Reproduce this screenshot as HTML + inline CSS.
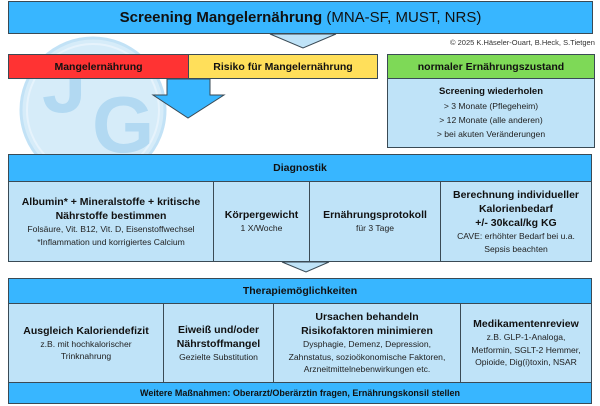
<!DOCTYPE html>
<html><head><meta charset="utf-8"><style>
body{margin:0;width:600px;height:406px;background:#fff;position:relative;overflow:hidden;font-family:"Liberation Sans",sans-serif;color:#111}
.a{position:absolute;box-sizing:border-box}
.b{border:1.5px solid #3a4a55}
.c{display:flex;flex-direction:column;justify-content:center;align-items:center;text-align:center}
.h{font-weight:bold;font-size:10.5px;line-height:14px}
.t{font-size:8.6px;line-height:12.5px;color:#222}
.lb{background:#bfe3f8}
.db{background:#38b6ff}
</style></head><body>
<svg class="a" style="left:0;top:0" width="600" height="406">
<circle cx="93" cy="110" r="72" fill="#d6ecf9" stroke="#c2e2f6" stroke-width="3"/>
<circle cx="93" cy="110" r="66" fill="none" stroke="#e6f3fc" stroke-width="2"/>
<text x="42" y="112" font-family="Liberation Sans" font-weight="bold" font-size="80" fill="#b2d9f2">J</text>
<text x="92" y="152" font-family="Liberation Sans" font-weight="bold" font-size="80" fill="#b2d9f2">G</text>
<polygon points="270,34 336,34 303,48" fill="#bfe3f8" stroke="#3a4a55" stroke-width="1"/>
<polygon points="167,79 210,79 210,95 224,95 188,118 153,95 167,95" fill="#38b6ff" stroke="#3a4a55" stroke-width="1"/>
<polygon points="282,262 329,262 306,272" fill="#bfe3f8" stroke="#3a4a55" stroke-width="1"/>
</svg>
<div class="a b c db" style="left:8px;top:1px;width:585px;height:33px;font-size:15px"><div><b>Screening Mangelernährung</b> (MNA-SF, MUST, NRS)</div></div>
<div class="a" style="left:450px;top:38px;font-size:7.5px;color:#333">© 2025 K.Häseler-Ouart, B.Heck, S.Tietgen</div>
<div class="a b c h" style="left:8px;top:54px;width:181px;height:25px;background:#ff3333">Mangelernährung</div>
<div class="a b c h" style="left:188px;top:54px;width:190px;height:25px;background:#ffdf5a">Risiko für Mangelernährung</div>
<div class="a b c h" style="left:387px;top:54px;width:208px;height:25px;background:#7ed957">normaler Ernährungszustand</div>
<div class="a b c lb" style="left:387px;top:78px;width:208px;height:70px"><div class="h" style="font-size:9.5px">Screening wiederholen</div><div class="t" style="line-height:14px">&gt; 3 Monate (Pflegeheim)<br>&gt; 12 Monate (alle anderen)<br>&gt; bei akuten Veränderungen</div></div>

<div class="a b c db h" style="left:8px;top:154px;width:584px;height:28px">Diagnostik</div>
<div class="a b c lb" style="left:8px;top:181px;width:206px;height:81px"><div class="h">Albumin* + Mineralstoffe + kritische<br>Nährstoffe bestimmen</div><div class="t">Folsäure, Vit. B12, Vit. D, Eisenstoffwechsel<br>*Inflammation und korrigiertes Calcium</div></div>
<div class="a b c lb" style="left:213px;top:181px;width:97px;height:81px"><div class="h">Körpergewicht</div><div class="t">1 X/Woche</div></div>
<div class="a b c lb" style="left:309px;top:181px;width:132px;height:81px"><div class="h">Ernährungsprotokoll</div><div class="t">für 3 Tage</div></div>
<div class="a b c lb" style="left:440px;top:181px;width:152px;height:81px"><div class="h">Berechnung individueller<br>Kalorienbedarf<br>+/- 30kcal/kg KG</div><div class="t">CAVE: erhöhter Bedarf bei u.a.<br>Sepsis beachten</div></div>

<div class="a b c db h" style="left:8px;top:278px;width:584px;height:26px">Therapiemöglichkeiten</div>
<div class="a b c lb" style="left:8px;top:303px;width:156px;height:80px"><div class="h">Ausgleich Kaloriendefizit</div><div class="t">z.B. mit hochkalorischer<br>Trinknahrung</div></div>
<div class="a b c lb" style="left:163px;top:303px;width:111px;height:80px"><div class="h">Eiweiß und/oder<br>Nährstoffmangel</div><div class="t">Gezielte Substitution</div></div>
<div class="a b c lb" style="left:273px;top:303px;width:188px;height:80px"><div class="h">Ursachen behandeln<br>Risikofaktoren minimieren</div><div class="t">Dysphagie, Demenz, Depression,<br>Zahnstatus, sozioökonomische Faktoren,<br>Arzneitmittelnebenwirkungen etc.</div></div>
<div class="a b c lb" style="left:460px;top:303px;width:132px;height:80px"><div class="h">Medikamentenreview</div><div class="t">z.B. GLP-1-Analoga,<br>Metformin, SGLT-2 Hemmer,<br>Opioide, Dig(i)toxin, NSAR</div></div>
<div class="a b c db" style="left:8px;top:382px;width:584px;height:22px;font-weight:bold;font-size:9px">Weitere Maßnahmen: Oberarzt/Oberärztin fragen, Ernährungskonsil stellen</div>
</body></html>
